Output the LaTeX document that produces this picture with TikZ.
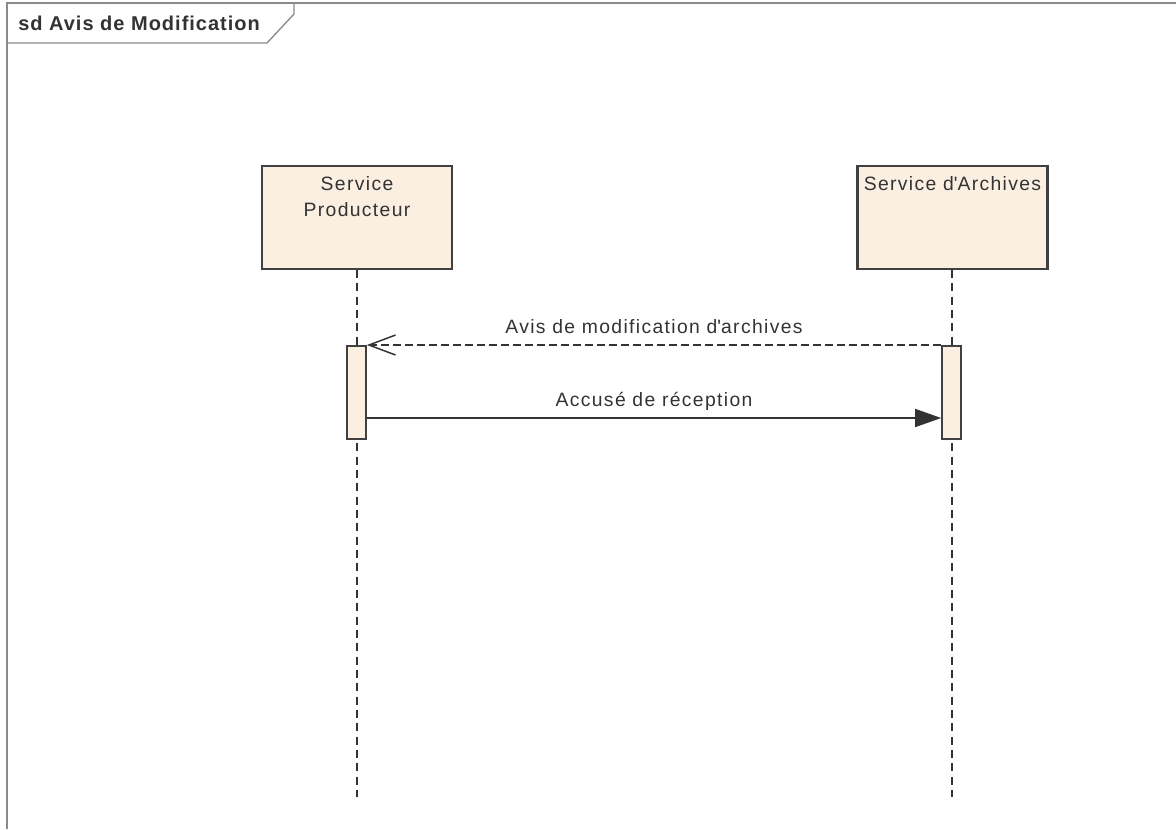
\documentclass[tikz,border=0pt]{standalone}
\usepackage{fontspec}
\setmainfont{Liberation Sans}[LetterSpace=7]
\usetikzlibrary{arrows.meta}
\definecolor{lifefill}{HTML}{FAEFE1}
\definecolor{edgegray}{HTML}{404040}
\definecolor{textgray}{HTML}{333333}
\definecolor{framegray}{HTML}{8A8A8A}
\tikzset{
  objbox/.style={draw=edgegray, line width=1.6pt, fill=lifefill, minimum width=142.5pt, minimum height=77.25pt, inner sep=0pt},
  actbar/.style={draw=edgegray, line width=1.2pt, fill=lifefill, minimum width=14.25pt, minimum height=69.75pt, inner sep=0pt},
  lifeline/.style={draw=textgray, line width=1.1pt, dash pattern=on 6pt off 4pt},
  msgtext/.style={text=textgray, font=\fontsize{14.5}{17}\selectfont, inner sep=0pt},
}
\begin{document}
\begin{tikzpicture}[x=0.75pt, y=-0.75pt]
    \useasboundingbox[fill=white] (0,0) rectangle (1176,829);
    % frame and its tab
    \draw[framegray, line width=1pt] (7,829) -- (7,3) -- (1176,3);
    \draw[framegray, line width=1pt] (7,43) -- (267,43) -- (294,14) -- (294,3);
    \node[msgtext, anchor=west, font=\fontsize{15}{17}\selectfont\addfontfeatures{LetterSpace=5}\bfseries] (title) at (18,23) {sd Avis de Modification};
    % objects
    \node[objbox] (prod) at (357,217.5) {};
    \node[objbox] (arch) at (952.5,217.5) {};
    \node[msgtext, align=center, anchor=north] (prodname) at (357,176) {Service\\[3pt]Producteur};
    \node[msgtext, anchor=north] (archname) at (952.5,176) {Service d\textquotesingle Archives};
    % lifelines
    \coordinate (prodend) at (357,797);
    \coordinate (archend) at (952,797);
    \draw[lifeline] (prod.south) -- (prodend);
    \draw[lifeline] (arch.south -| archend) -- (archend);
    % activations
    \node[actbar, anchor=north] (prodact) at (356.5,345) {};
    \node[actbar, anchor=north] (archact) at (951.5,345) {};
    % messages
    \draw[textgray, line width=1.1pt, dash pattern=on 6pt off 3pt, -{Straight Barb[length=20pt, width=15pt, line width=1.1pt]}]
      (archact.north west) -- node[msgtext, above=8pt] (msgavis) {Avis de modification d\textquotesingle archives} (prodact.north east);
    \coordinate (srcack) at ([yshift=-54.75pt]prodact.north east);
    \coordinate (dstack) at ([yshift=-54.75pt]archact.north west);
    \draw[textgray, line width=1.1pt, -{Triangle[length=19.5pt, width=13.5pt]}]
      (srcack) -- node[msgtext, above=5pt] (msgack) {Accusé de réception} (dstack);
\end{tikzpicture}
\end{document}
